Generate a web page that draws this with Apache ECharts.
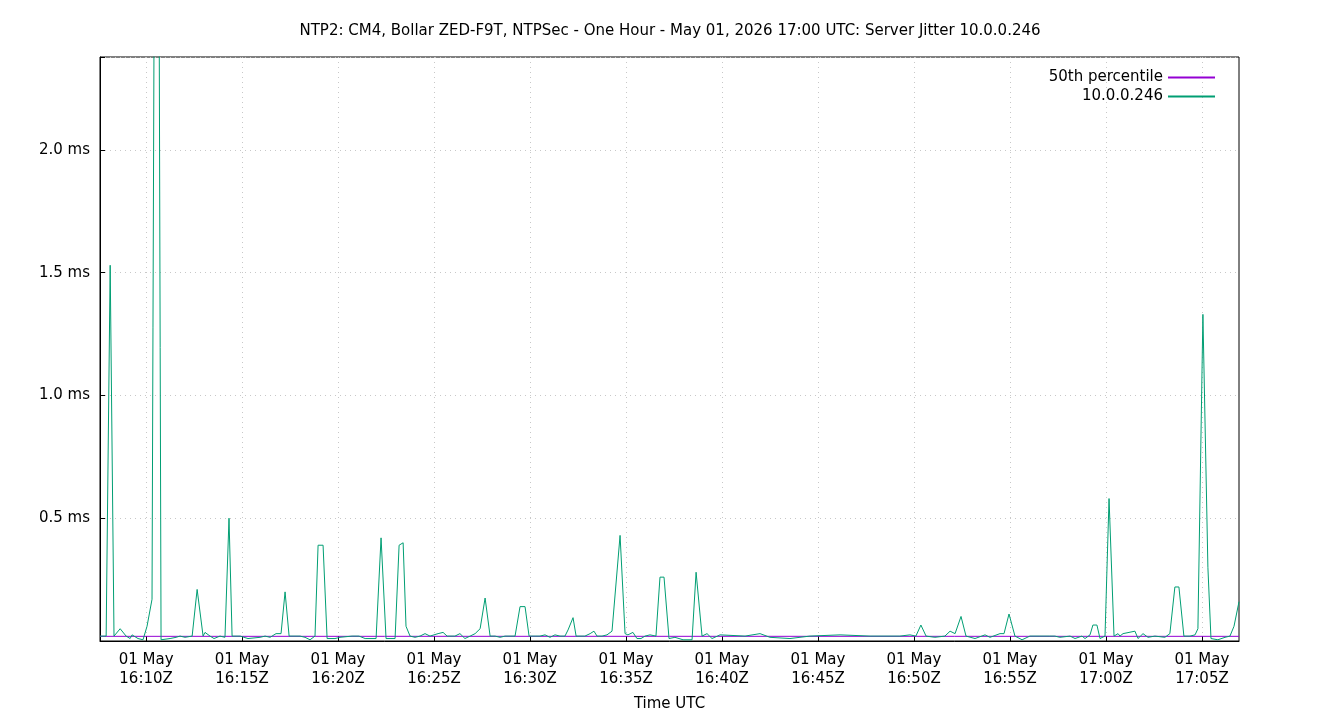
<!DOCTYPE html>
<html><head><meta charset="utf-8">
<script src="https://cdn.jsdelivr.net/npm/echarts@6/dist/echarts.min.js"></script>
<style>html,body{margin:0;padding:0;background:#fff}#c{width:1340px;height:720px}</style>
</head><body><div id="c"></div>
<script>
// time in minutes after 16:00 UTC, jitter in ms
const times = [7.60,7.92,8.13,8.33,8.65,8.96,9.17,9.27,9.58,9.84,10.05,10.31,10.42,10.68,10.78,11.25,11.56,11.77,12.03,12.40,12.66,12.97,13.07,13.33,13.54,13.85,14.11,14.32,14.48,14.90,15.31,15.94,16.20,16.46,16.77,17.03,17.24,17.45,18.02,18.28,18.54,18.80,18.96,19.22,19.43,19.84,20.10,20.73,21.09,21.41,21.98,22.24,22.50,22.97,23.18,23.39,23.54,23.75,24.01,24.27,24.53,24.79,25.21,25.47,25.68,26.09,26.35,26.61,26.88,27.14,27.40,27.66,27.92,28.18,28.44,28.70,28.96,29.22,29.48,29.74,29.95,30.26,30.52,30.78,31.04,31.30,31.56,31.82,31.98,32.24,32.40,32.86,33.13,33.33,33.49,33.75,34.01,34.27,34.69,34.95,35.10,35.36,35.57,35.78,35.99,36.25,36.56,36.77,36.98,37.24,37.55,37.97,38.44,38.65,38.75,38.96,39.22,39.48,39.90,41.20,41.98,42.50,43.54,44.58,46.15,47.71,49.27,49.79,50.10,50.36,50.63,51.09,51.61,51.88,52.14,52.45,52.71,53.18,53.70,53.96,54.48,54.69,54.95,55.26,55.63,56.04,56.56,57.08,57.34,57.60,58.13,58.39,58.75,58.91,59.17,59.32,59.53,59.69,59.95,60.16,60.42,60.63,60.73,60.89,61.51,61.67,61.93,62.19,62.55,63.07,63.33,63.59,63.80,64.06,64.38,64.64,64.79,65.05,65.31,65.47,65.83,66.20,66.46,66.67,66.93];
const jitter = [0.02,0.02,1.53,0.02,0.05,0.02,0.01,0.025,0.01,0.005,0.06,0.17,2.6,2.6,0.005,0.01,0.015,0.02,0.015,0.02,0.21,0.02,0.035,0.02,0.01,0.02,0.015,0.5,0.02,0.02,0.01,0.015,0.02,0.015,0.03,0.03,0.2,0.02,0.02,0.015,0.005,0.02,0.39,0.39,0.01,0.01,0.015,0.02,0.02,0.01,0.01,0.42,0.01,0.01,0.39,0.4,0.06,0.02,0.015,0.02,0.03,0.02,0.03,0.035,0.02,0.02,0.03,0.01,0.02,0.03,0.05,0.175,0.02,0.02,0.015,0.02,0.02,0.02,0.14,0.14,0.02,0.02,0.02,0.025,0.015,0.025,0.02,0.02,0.045,0.095,0.02,0.02,0.03,0.04,0.02,0.02,0.025,0.04,0.43,0.03,0.025,0.035,0.01,0.01,0.02,0.025,0.02,0.26,0.26,0.01,0.015,0.005,0.005,0.28,0.28,0.02,0.03,0.01,0.025,0.02,0.03,0.015,0.01,0.02,0.025,0.02,0.02,0.025,0.02,0.065,0.02,0.015,0.02,0.04,0.03,0.1,0.02,0.01,0.025,0.015,0.03,0.03,0.11,0.02,0.005,0.02,0.02,0.02,0.02,0.015,0.02,0.01,0.02,0.01,0.025,0.065,0.065,0.01,0.02,0.58,0.02,0.03,0.02,0.03,0.04,0.01,0.03,0.015,0.02,0.015,0.03,0.22,0.22,0.02,0.02,0.025,0.05,1.33,0.3,0.01,0.005,0.015,0.02,0.06,0.16];
const percentile50 = 0.019;
const xTicks = [10,15,20,25,30,35,40,45,50,55,60,65];
const xMin = 7.6, xMax = 66.93, yMax = 2.378;

function fmtX(v){const h=16+Math.floor(v/60), m=Math.round(v%60);return '01 May\n'+h+':'+String(m).padStart(2,'0')+'Z';}
const chart = echarts.init(document.getElementById('c'));
const font = 'DejaVu Sans';
chart.setOption({
  animation:false,
  textStyle:{fontFamily:font},
  title:{text:'NTP2: CM4, Bollar ZED-F9T, NTPSec - One Hour - May 01, 2026 17:00 UTC: Server Jitter 10.0.0.246',left:'center',top:19,textStyle:{fontFamily:font,fontSize:15,fontWeight:'normal',color:'#000'}},
  legend:{orient:'vertical',right:120,top:65,align:'right',itemWidth:47,itemHeight:2,itemGap:4,icon:'rect',
    textStyle:{fontFamily:font,fontSize:15,color:'#000'},data:['50th percentile','10.0.0.246']},
  grid:{left:100,right:101,top:57,bottom:79,show:true,borderColor:'#000',borderWidth:1},
  xAxis:{type:'value',min:xMin,max:xMax,name:'Time UTC',nameLocation:'middle',nameGap:56,
    nameTextStyle:{fontFamily:font,fontSize:15,color:'#000'},
    axisLine:{lineStyle:{color:'#000'}},
    axisTick:{inside:true,length:5,lineStyle:{color:'#000'},customValues:xTicks},
    axisLabel:{customValues:xTicks,formatter:fmtX,fontFamily:font,fontSize:15,color:'#000',lineHeight:19,margin:10},
    splitLine:{show:true,lineStyle:{color:'#c8c8c8',type:[1,4]}}},
  yAxis:{type:'value',min:0,max:yMax,interval:0.5,
    axisLine:{show:true,lineStyle:{color:'#000'}},
    axisTick:{show:true,inside:true,length:5,lineStyle:{color:'#000'}},
    axisLabel:{fontFamily:font,fontSize:15,color:'#000',margin:10,formatter:v=>v===0||v>2.3?'':v.toFixed(1)+' ms'},
    splitLine:{show:true,lineStyle:{color:'#c8c8c8',type:[1,4]}}},
  series:[
    {name:'50th percentile',type:'line',symbol:'none',data:[[xMin,percentile50],[xMax,percentile50]],lineStyle:{color:'#9400d3',width:1},itemStyle:{color:'#9400d3'}},
    {name:'10.0.0.246',type:'line',symbol:'none',clip:true,data:times.map((t,i)=>[t,jitter[i]]),lineStyle:{color:'#009e73',width:1},itemStyle:{color:'#009e73'}}
  ]
});
</script></body></html>
